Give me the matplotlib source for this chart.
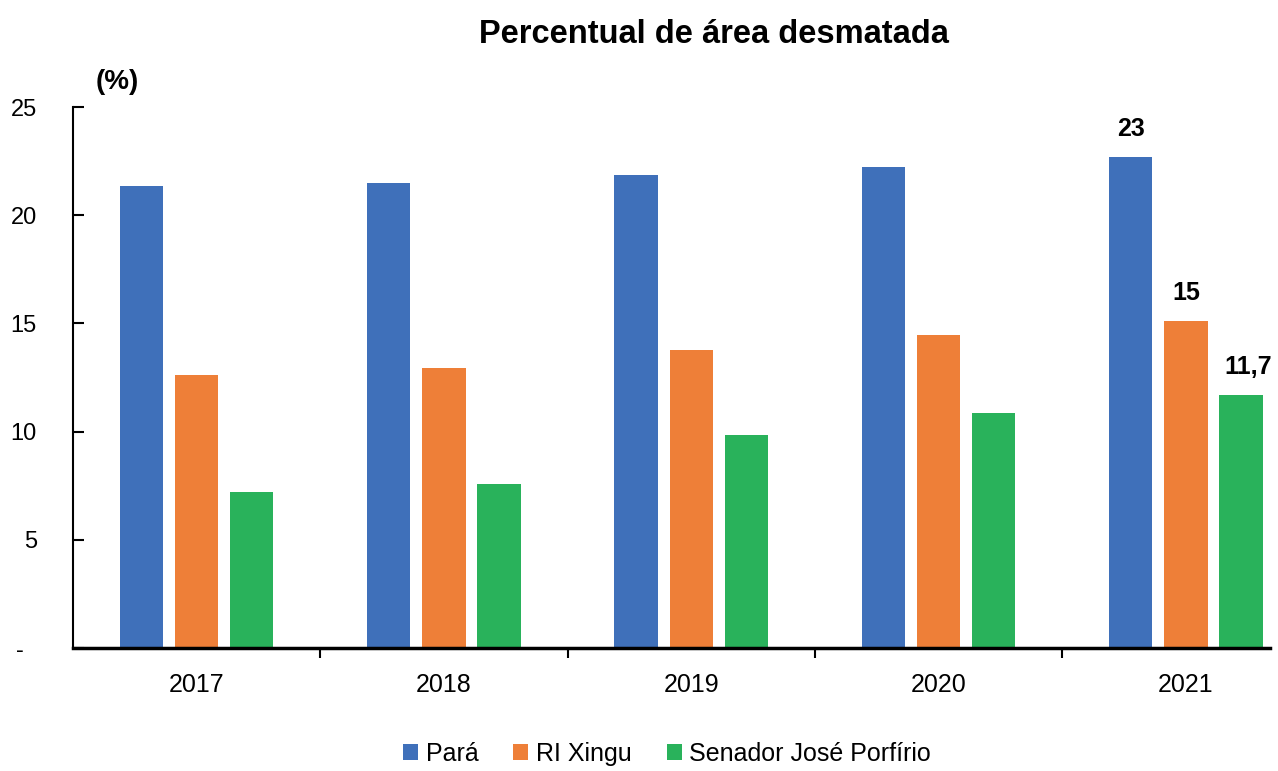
import matplotlib.pyplot as plt
import numpy as np
from matplotlib import font_manager

years = ["2017", "2018", "2019", "2020", "2021"]
para = [21.35, 21.5, 21.85, 22.25, 22.7]
ri_xingu = [12.6, 12.95, 13.75, 14.45, 15.1]
senador = [7.2, 7.6, 9.85, 10.85, 11.7]
series_names = ["Pará", "RI Xingu", "Senador José Porfírio"]
last_labels = ["23", "15", "11,7"]
y_ticks = [0, 5, 10, 15, 20, 25]
y_ticklabels = ["-  ", "5", "10", "15", "20", "25"]

COLORS = ["#3F70BA", "#EE7F38", "#29B25B"]


def pick_font():
    names = {f.name for f in font_manager.fontManager.ttflist}
    for n in ["Liberation Sans Narrow", "Liberation Sans", "DejaVu Sans"]:
        if n in names:
            return n
    return "DejaVu Sans"


def main() -> None:
    plt.rcParams["font.family"] = [pick_font(), "DejaVu Sans"]

    fig = plt.figure(figsize=(12.78, 7.71), dpi=100)
    ax = fig.add_axes([0.0571, 0.1595, 0.9366, 0.7017])

    x = np.arange(len(years))
    pitch = 0.223
    width = 0.175
    data = [para, ri_xingu, senador]
    for i, (vals, name, c) in enumerate(zip(data, series_names, COLORS)):
        ax.bar(x + (i - 1) * pitch, vals, width=width, color=c, label=name)

    # rótulos só no último ano
    for i, vals in enumerate(data):
        xi = x[-1] + (i - 1) * pitch
        dx = 0.03 if i == 2 else 0
        ax.text(xi + dx, vals[-1] + 0.75, last_labels[i], ha="center", va="bottom",
                fontsize=18, fontweight="bold")

    ax.set_xlim(-0.5, 4.34)
    ax.set_ylim(0, 25)
    ax.set_yticks(y_ticks)
    ax.set_yticklabels(y_ticklabels, fontsize=17)
    ax.tick_params(axis="y", direction="in", length=8, width=1.5, pad=26)

    ax.set_xticks(x)
    ax.set_xticklabels(years, fontsize=18)
    ax.set_xticks(x[:-1] + 0.5, minor=True)
    ax.tick_params(axis="x", which="major", length=0, pad=18)
    ax.tick_params(axis="x", which="minor", direction="out", length=7, width=1.5)

    for s in ["top", "right"]:
        ax.spines[s].set_visible(False)
    ax.spines["left"].set_linewidth(1.5)
    ax.spines["bottom"].set_linewidth(2.5)

    fig.text(0.559, 0.955, "Percentual de área desmatada", ha="center", va="center",
             fontsize=23.5, fontweight="bold")
    fig.text(0.092, 0.893, "(%)", ha="center", va="center", fontsize=20, fontweight="bold")

    fig.legend(loc="center", bbox_to_anchor=(0.522, 0.022), ncol=3, frameon=False,
               fontsize=18, handlelength=0.6, handleheight=0.6, handletextpad=0.3,
               columnspacing=1.4)

    fig.savefig("out.png", dpi=100)
    plt.close(fig)


if __name__ == "__main__":
    main()
